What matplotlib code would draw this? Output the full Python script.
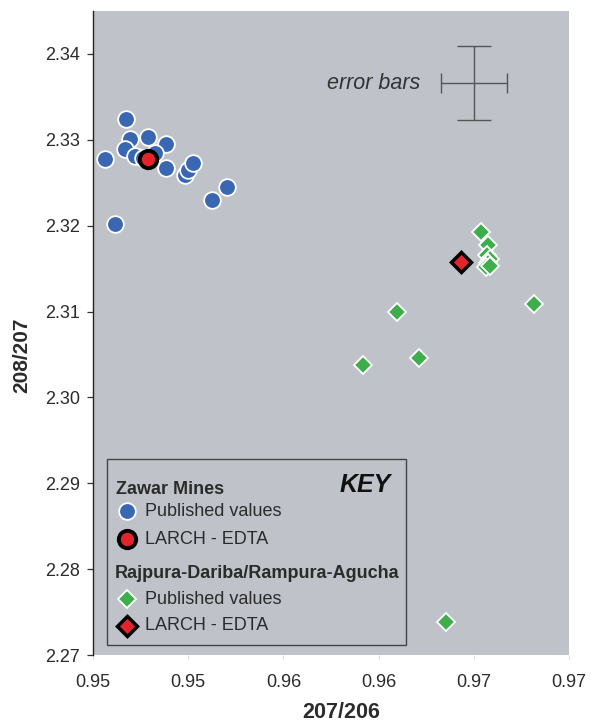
import matplotlib
matplotlib.use("Agg")
import matplotlib.pyplot as plt
from matplotlib.patches import Rectangle

plt.rcParams['font.family'] = ['Liberation Sans', 'DejaVu Sans']

# Zawar Mines - published values (207/206, 208/207)
zawar_x = [0.95172, 0.95194, 0.95168, 0.95221, 0.95290, 0.95383, 0.95063,
           0.95264, 0.95326, 0.95383, 0.95483, 0.95501, 0.95524, 0.95702,
           0.95623, 0.95116]
zawar_y = [2.33241, 2.33008, 2.32892, 2.32814, 2.33038, 2.32953, 2.32775,
           2.32787, 2.32848, 2.32677, 2.32592, 2.32650, 2.32728, 2.32456,
           2.32301, 2.32021]
# Zawar Mines - LARCH EDTA
zawar_larch_x = [0.95290]
zawar_larch_y = [2.32775]

# Rajpura-Dariba / Rampura-Agucha - published values
rd_x = [0.97038, 0.97076, 0.97069, 0.97085, 0.97075, 0.97064, 0.97085,
        0.97318, 0.96595, 0.96712, 0.96416, 0.96856]
rd_y = [2.31924, 2.31776, 2.31660, 2.31613, 2.31566, 2.31520, 2.31531,
        2.31085, 2.31000, 2.30456, 2.30378, 2.27380]
# Rajpura-Dariba / Rampura-Agucha - LARCH EDTA
rd_larch_x = [0.96931]
rd_larch_y = [2.31582]

# representative error bar
err_x, err_y = 0.97001, 2.33661
err_dx, err_dy = 0.00175, 0.00428

x_ticks = [0.950, 0.955, 0.960, 0.965, 0.970, 0.975]
y_ticks = [2.27, 2.28, 2.29, 2.30, 2.31, 2.32, 2.33, 2.34]

BG = '#BFC2C9'
BLUE = '#3A67B1'
GREEN = '#3DAE4A'
RED = '#E3252B'
TXT = '#2B2B2B'

CIRCLE = dict(marker='o', ms=12, mfc=BLUE, mec='white', mew=1.3, ls='none')
CIRCLE_L = dict(marker='o', ms=12.5, mfc=RED, mec='black', mew=2.8, ls='none')
DIAMOND = dict(marker='D', ms=9.3, mfc=GREEN, mec='white', mew=1.3, ls='none')
DIAMOND_L = dict(marker='D', ms=10, mfc=RED, mec='black', mew=2.5, ls='none')

W, H = 591, 722
fig = plt.figure(figsize=(W / 100, H / 100), dpi=100)
ax = fig.add_axes([93 / W, 1 - 655 / H, 476 / W, 644 / H])
ax.set_facecolor(BG)

ax.plot(zawar_x, zawar_y, zorder=3, **CIRCLE)
ax.plot(zawar_larch_x, zawar_larch_y, zorder=4, **CIRCLE_L)
ax.plot(rd_x, rd_y, zorder=3, **DIAMOND)
ax.plot(rd_larch_x, rd_larch_y, zorder=4, **DIAMOND_L)

ax.errorbar([err_x], [err_y], yerr=[err_dy], fmt='none', ecolor='#555555',
            elinewidth=1.0, capsize=12, capthick=1.0)
ax.errorbar([err_x], [err_y], xerr=[err_dx], fmt='none', ecolor='#555555',
            elinewidth=1.0, capsize=7.2, capthick=1.0)
ax.text(0.96717, err_y, 'error bars', style='italic', fontsize=15.5,
        color='#333333', ha='right', va='center')

ax.set_xlim(0.950, 0.975)
ax.set_ylim(2.27, 2.345)
ax.set_xticks(x_ticks)
ax.set_xticklabels(['%.2f' % v for v in x_ticks])
ax.set_yticks(y_ticks)
ax.set_yticklabels(['%.2f' % v for v in y_ticks])

for s in ('top', 'right', 'bottom'):
    ax.spines[s].set_visible(False)
ax.spines['left'].set_color('#222222')
ax.spines['left'].set_linewidth(1.0)

ax.tick_params(axis='y', direction='out', length=4.5, width=0.9,
               color='#333333', labelsize=13, labelcolor=TXT, pad=5)
ax.tick_params(axis='x', direction='out', length=3.5, width=0.8,
               color='#E2E2E2', labelsize=13, labelcolor=TXT, pad=10)

fig.text(341 / W, 1 - 712 / H, '207/206', fontsize=15.5, fontweight='bold',
         color=TXT, ha='center', va='center')
fig.text(22 / W, 1 - 355 / H, '208/207', fontsize=15, fontweight='bold',
         color=TXT, ha='center', va='center', rotation=90)

# key box
def fx(px):
    return (px - 93) / 476

def fy(py):
    return (655 - py) / 644

ax.add_patch(Rectangle((fx(107), fy(645)), fx(406) - fx(107), fy(459) - fy(645),
                       transform=ax.transAxes, facecolor='none',
                       edgecolor='#444444', linewidth=1.0, zorder=5))
ax.text(fx(116), fy(489), 'Zawar Mines', transform=ax.transAxes,
        fontsize=13, fontweight='bold', color=TXT, ha='left', va='center')
ax.text(fx(391), fy(485), 'KEY', transform=ax.transAxes, fontsize=18,
        fontweight='bold', style='italic', color='#111111',
        ha='right', va='center')
ax.plot([fx(126.7)], [fy(511)], transform=ax.transAxes, zorder=6, **CIRCLE)
ax.text(fx(145), fy(511), 'Published values', transform=ax.transAxes,
        fontsize=13, color=TXT, ha='left', va='center')
ax.plot([fx(126.7)], [fy(539)], transform=ax.transAxes, zorder=6, **CIRCLE_L)
ax.text(fx(145), fy(539), 'LARCH - EDTA', transform=ax.transAxes,
        fontsize=13, color=TXT, ha='left', va='center')
ax.text(fx(115), fy(574), 'Rajpura-Dariba/Rampura-Agucha',
        transform=ax.transAxes, fontsize=13, fontweight='bold', color=TXT,
        ha='left', va='center')
ax.plot([fx(126.7)], [fy(599)], transform=ax.transAxes, zorder=6, **DIAMOND)
ax.text(fx(145), fy(599), 'Published values', transform=ax.transAxes,
        fontsize=13, color=TXT, ha='left', va='center')
ax.plot([fx(126.7)], [fy(626)], transform=ax.transAxes, zorder=6, **DIAMOND_L)
ax.text(fx(145), fy(626), 'LARCH - EDTA', transform=ax.transAxes,
        fontsize=13, color=TXT, ha='left', va='center')

fig.savefig('out.png', dpi=100)
